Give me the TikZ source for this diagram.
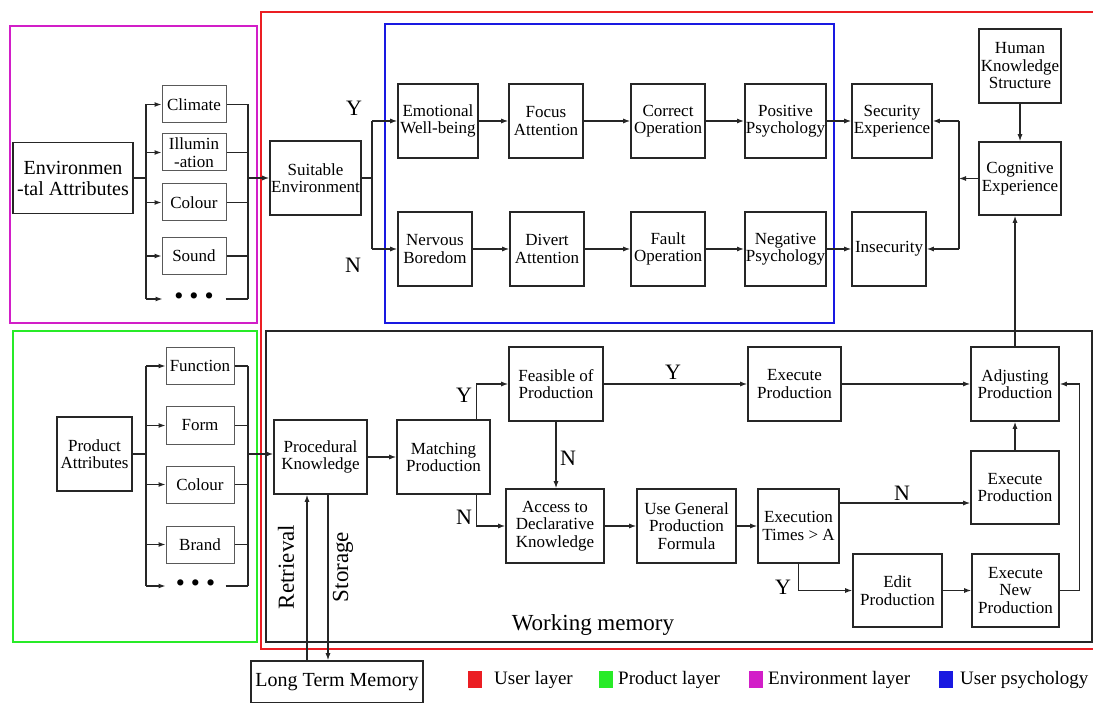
\documentclass[tikz,border=0pt]{standalone}
\usepackage{fontspec}
\setmainfont{Liberation Serif}
\usetikzlibrary{arrows.meta}
\definecolor{userred}{RGB}{235,30,35}
\definecolor{prodgreen}{RGB}{40,235,40}
\definecolor{envmag}{RGB}{210,30,200}
\definecolor{psyblue}{RGB}{25,25,225}

\begin{document}
\begin{tikzpicture}[x=1pt,y=-1pt]
\useasboundingbox (0,0) rectangle (1093,703);

% layers
\begin{scope}[line width=1.5pt]
    \draw[userred]   (261,12)  rectangle (1097,649);
    \draw[envmag]    (10,26)   rectangle (257,323);
    \draw[prodgreen] (13,331)  rectangle (257,642);
    \draw[psyblue]   (385,24)  rectangle (834,323);
    \draw[black!85]  (266,331) rectangle (1092,642);
\end{scope}

\begin{scope}[every node/.style={draw=black!85,line width=1.6pt,align=center,inner sep=1pt,
              minimum height=74pt,font=\fontsize{17}{17.5}\selectfont}]
    \node[minimum width=120pt,minimum height=71pt,font=\fontsize{20}{21}\selectfont] (env) at (73,178) {Environmen\\-tal Attributes};
    \node[minimum width=91pt]  (suit)  at (315.5,178) {Suitable\\Environment};
    \node[minimum width=75pt]  (prod)  at (94.5,454)  {Product\\Attributes};

    \node[minimum width=80pt]  (emo)   at (438,121)   {Emotional\\Well-being};
    \node[minimum width=74pt]  (focus) at (546,121)   {Focus\\Attention};
    \node[minimum width=74pt]  (corr)  at (668,121)   {Correct\\Operation};
    \node[minimum width=81pt]  (posi)  at (785.5,121) {Positive\\Psychology};
    \node[minimum width=80pt]  (secu)  at (892,121)   {Security\\Experience};

    \node[minimum width=74pt]  (nerv)  at (435,249)   {Nervous\\Boredom};
    \node[minimum width=74pt]  (dive)  at (547,249)   {Divert\\Attention};
    \node[minimum width=74pt]  (fault) at (668,249)   {Fault\\Operation};
    \node[minimum width=81pt]  (nega)  at (785.5,249) {Negative\\Psychology};
    \node[minimum width=74pt]  (insec) at (889,249)   {Insecurity};

    \node[minimum width=82pt]  (human) at (1020,66)   {Human\\Knowledge\\Structure};
    \node[minimum width=82pt,minimum height=73pt] (cogn) at (1020,178.5) {Cognitive\\Experience};

    \node[minimum width=93pt]  (proc)  at (320.5,457) {Procedural\\Knowledge};
    \node[minimum width=93pt]  (match) at (443.5,457) {Matching\\Production};
    \node[minimum width=94pt]  (feas)  at (556,384)   {Feasible of\\Production};
    \node[minimum width=98pt]  (acc)   at (555,526)   {Access to\\Declarative\\Knowledge};
    \node[minimum width=99pt]  (usegen) at (686.5,526) {Use General\\Production\\Formula};
    \node[minimum width=81pt]  (times) at (798.5,526) {Execution\\Times > A};
    \node[minimum width=93pt]  (exec1) at (794.5,384) {Execute\\Production};
    \node[minimum width=88pt]  (adj)   at (1015,384)  {Adjusting\\Production};
    \node[minimum width=88pt,minimum height=73pt] (exec2) at (1015,487.5) {Execute\\Production};
    \node[minimum width=89pt,minimum height=73pt] (edit)  at (897.5,590.5) {Edit\\Production};
    \node[minimum width=87pt,minimum height=73pt] (execn) at (1015.5,590.5) {Execute\\New\\Production};

    \node[minimum width=172pt,minimum height=42pt,font=\fontsize{20}{21}\selectfont] (ltm) at (337,682) {Long Term Memory};
\end{scope}

\begin{scope}[every node/.style={draw=black!65,line width=1pt,align=center,inner sep=1pt,
              minimum width=64pt,minimum height=37pt,font=\fontsize{17}{17.5}\selectfont}]
    \node (clim)  at (194,104.5) {Climate};
    \node (illu)  at (194,152.5) {Illumin\\-ation};
    \node (ecol)  at (194,202.5) {Colour};
    \node (sound) at (194,256)   {Sound};
    \node[draw=none,minimum width=62pt,font=\fontsize{26}{26}\selectfont] (edots) at (194,299) {\textbullet\hspace{6pt}\textbullet\hspace{6pt}\textbullet};

    \node[minimum width=68pt] (func)  at (200,366)   {Function};
    \node[minimum width=68pt] (form)  at (200,425.5) {Form};
    \node[minimum width=68pt] (pcol)  at (200,484.5) {Colour};
    \node[minimum width=68pt] (brand) at (200,544.5) {Brand};
    \node[draw=none,minimum width=59pt,font=\fontsize{26}{26}\selectfont] (pdots) at (195.5,586) {\textbullet\hspace{6pt}\textbullet\hspace{6pt}\textbullet};
\end{scope}

\coordinate (eb) at (146,178);
\coordinate (em) at (248,178);
\coordinate (pb) at (146,454);
\coordinate (pm) at (248,454);
\coordinate (sb) at (372,178);
\coordinate (cb) at (959,178.5);

\begin{scope}[line width=1.2pt,draw=black!85,>={Latex[length=7pt,width=5pt]}]
    % environment branch
    \draw (env.east) -- (eb);
    \draw (eb |- clim.west) -- (eb |- edots.west);
    \foreach \n in {clim,illu,ecol,sound,edots}
        \draw[->] (eb |- \n.west) -- (\n.west);
    \foreach \n in {clim,illu,ecol,sound,edots}
        \draw (\n.east) -- (em |- \n.east);
    \draw (em |- clim.east) -- (em |- edots.east);
    \draw[->] (em) -- (suit.west);

    % product branch
    \draw (prod.east) -- (pb);
    \draw (pb |- func.west) -- (pb |- pdots.west);
    \foreach \n in {func,form,pcol,brand,pdots}
        \draw[->] (pb |- \n.west) -- (\n.west);
    \foreach \n in {func,form,pcol,brand,pdots}
        \draw (\n.east) -- (pm |- \n.east);
    \draw (pm |- func.east) -- (pm |- pdots.east);
    \draw[->] (pm) -- (pm -| proc.west);

    % psychology
    \draw (suit.east) -- (sb);
    \draw (sb |- emo.west) -- (sb |- nerv.west);
    \draw[->] (sb |- emo.west) -- (emo.west);
    \draw[->] (sb |- nerv.west) -- (nerv.west);
    \draw[->] (emo) -- (focus);
    \draw[->] (focus) -- (corr);
    \draw[->] (corr) -- (posi);
    \draw[->] (posi) -- (secu);
    \draw[->] (nerv) -- (dive);
    \draw[->] (dive) -- (fault);
    \draw[->] (fault) -- (nega);
    \draw[->] (nega) -- (insec);
    \draw[->] (human) -- (cogn);
    \draw[->] (cogn.west) -- (cb);
    \draw (cb |- secu.east) -- (cb |- insec.east);
    \draw[->] (cb |- secu.east) -- (secu.east);
    \draw[->] (cb |- insec.east) -- (insec.east);

    % working memory
    \draw[->] (proc) -- (match);
    \draw[->] ([xshift=-14pt]match.north east) |- (feas.west);
    \draw[->] ([xshift=-14pt]match.south east) |- (acc.west);
    \draw[->] (feas.south) -- (feas.south |- acc.north);
    \draw[->] (feas) -- (exec1);
    \draw[->] (acc) -- (usegen);
    \draw[->] (usegen) -- (times);
    \draw[->] ([yshift=23pt]times.east) -- ([yshift=23pt]times.east -| exec2.west);
    \draw[->] (times.south) |- (edit.west);
    \draw[->] (edit) -- (execn);
    \draw[->] (exec2) -- (adj);
    \draw[->] (exec1) -- (adj);
    \draw[->] (execn.east) -- ++(20,0) |- (adj.east);
    \draw[->] (adj.north) -- (adj.north |- cogn.south);

    % long term memory
    \draw[->] ([xshift=-13.5pt]proc.south |- ltm.north) -- ([xshift=-13.5pt]proc.south);
    \draw[->] ([xshift=7.5pt]proc.south) -- ([xshift=7.5pt]proc.south |- ltm.north);
\end{scope}

\begin{scope}[every node/.style={font=\fontsize{22}{22}\selectfont,inner sep=0pt}]
    \node (y1) at (354,108) {Y};
    \node (n1) at (353,265) {N};
    \node (y2) at (464,395) {Y};
    \node (n2) at (464,517) {N};
    \node (n3) at (568,458) {N};
    \node (y3) at (673,372) {Y};
    \node (n4) at (902,493) {N};
    \node (y4) at (783,587) {Y};
\end{scope}

\begin{scope}[every node/.style={font=\fontsize{23}{23}\selectfont,inner sep=0pt}]
    \node[rotate=90] (retr) at (286,567) {Retrieval};
    \node[rotate=90] (stor) at (343,567) {Storage};
    \node (wm) at (593,625) {Working memory};
\end{scope}

% legend
\begin{scope}[every node/.style={minimum width=14pt,minimum height=17pt,inner sep=0pt}]
    \node[fill=userred]   (lu) at (475,679) {};
    \node[fill=prodgreen] (lp) at (606,679) {};
    \node[fill=envmag]    (le) at (755.5,679) {};
    \node[fill=psyblue]   (lb) at (946,679) {};
\end{scope}
\begin{scope}[every node/.style={anchor=west,inner sep=0pt,font=\fontsize{19}{20}\selectfont}]
    \node (tu) at (494,680) {User layer};
    \node (tp) at (618,680) {Product layer};
    \node (te) at (768,680) {Environment layer};
    \node (tb) at (960,680) {User psychology};
\end{scope}
\end{tikzpicture}
\end{document}
